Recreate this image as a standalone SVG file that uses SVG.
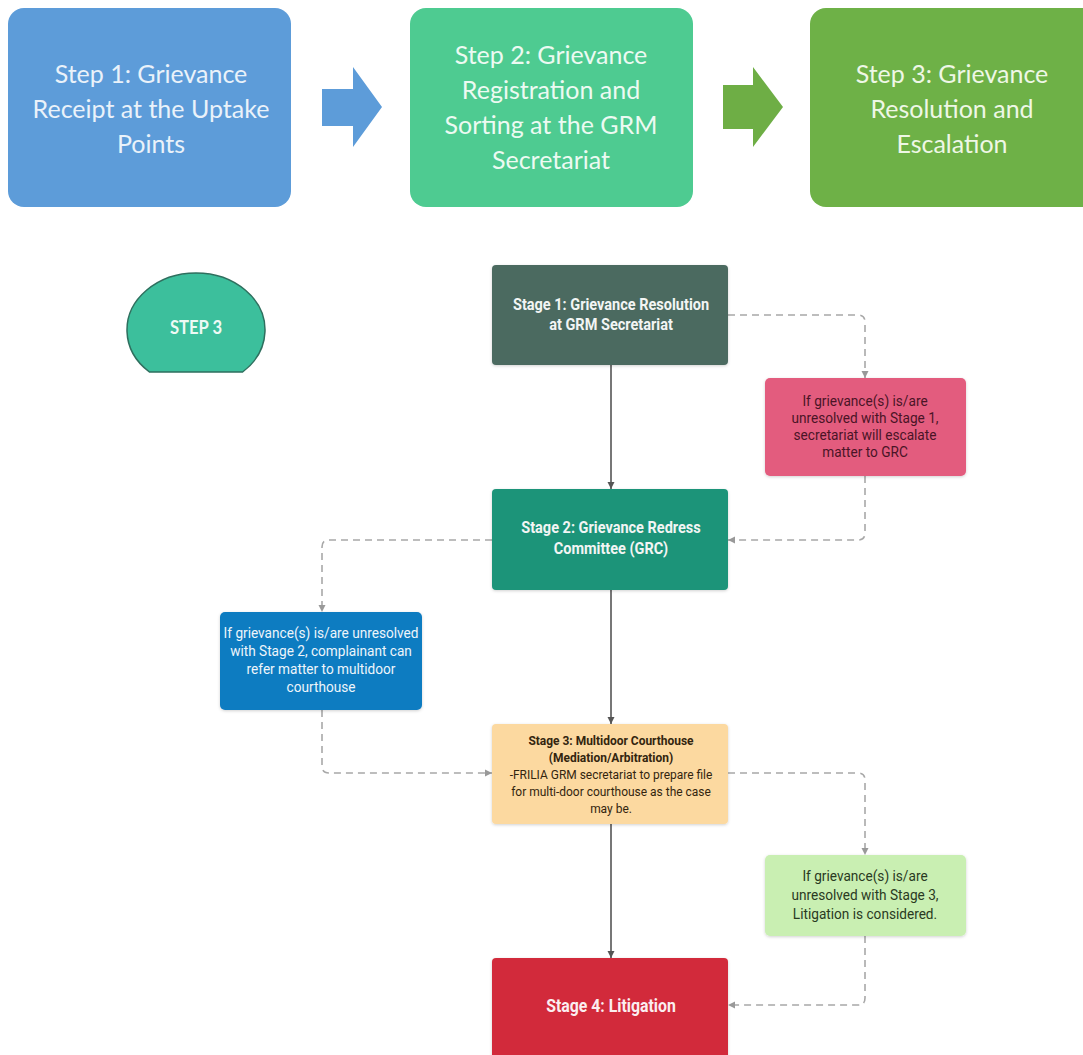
<svg xmlns="http://www.w3.org/2000/svg" width="1083" height="1055" viewBox="0 0 1083 1055">
  <defs>
    <style>
      .step { font-family: Lato, "Open Sans", sans-serif; font-size: 25px; text-anchor: middle; }
      .stage { font-family: Roboto, "Liberation Sans", sans-serif; font-size: 16.5px; font-weight: bold; text-anchor: middle; fill: #f2f5f4; }
      .stage-lg { font-size: 18px; fill: #fbeef0; }
      .note { font-family: Roboto, "Liberation Sans", sans-serif; font-size: 15.5px; text-anchor: middle; }
      .small { font-family: Roboto, "Liberation Sans", sans-serif; font-size: 13.6px; text-anchor: middle; fill: #33250f; }
      .solid { fill: none; stroke: #555555; stroke-width: 1.6; }
      .dash { fill: none; stroke: #a8a8a8; stroke-width: 1.6; stroke-dasharray: 7 5; }
    </style>
    <marker id="headSolid" viewBox="0 0 10 10" refX="10" refY="5" markerWidth="7" markerHeight="10" markerUnits="userSpaceOnUse" orient="auto">
      <path d="M0,0 L10,5 L0,10 Z" fill="#555555"/>
    </marker>
    <marker id="headDash" viewBox="0 0 10 10" refX="10" refY="5" markerWidth="7" markerHeight="10" markerUnits="userSpaceOnUse" orient="auto">
      <path d="M0,0 L10,5 L0,10 Z" fill="#999999"/>
    </marker>
    <filter id="soft" x="-5%" y="-5%" width="110%" height="115%">
      <feDropShadow dx="0" dy="1" stdDeviation="1.5" flood-color="#000" flood-opacity="0.18"/>
    </filter>
  </defs>

  <rect width="1083" height="1055" fill="#ffffff"/>

  <!-- Top process steps -->
  <g id="step1">
    <rect x="8" y="8" width="283" height="199" rx="16" fill="#5d9cd9"/>
    <text class="step" fill="#eaf2fa"><tspan x="151" y="83">Step 1: Grievance</tspan><tspan x="151" y="118">Receipt at the Uptake</tspan><tspan x="151" y="153">Points</tspan></text>
  </g>
  <g id="arrow-step1-step2">
    <path d="M322,89 H353 V67 L382,107 L353,147 V126 H322 Z" fill="#5d9cd9"/>
  </g>
  <g id="step2">
    <rect x="410" y="8" width="283" height="199" rx="16" fill="#4ecb91"/>
    <text class="step" fill="#ecfaf2"><tspan x="551" y="64">Step 2: Grievance</tspan><tspan x="551" y="99">Registration and</tspan><tspan x="551" y="134">Sorting at the GRM</tspan><tspan x="551" y="169">Secretariat</tspan></text>
  </g>
  <g id="arrow-step2-step3">
    <path d="M723,85 H753 V67 L783,107 L753,147 V129 H723 Z" fill="#6eae45"/>
  </g>
  <g id="step3">
    <rect x="810" y="8" width="290" height="199" rx="16" fill="#6eb147"/>
    <text class="step" fill="#eef7e6"><tspan x="952" y="83">Step 3: Grievance</tspan><tspan x="952" y="118">Resolution and</tspan><tspan x="952" y="153">Escalation</tspan></text>
  </g>

  <!-- Step 3 badge -->
  <g id="step3-badge">
    <path d="M149.4,372 A69,57 0 1 1 242.6,372 Z" fill="#3cbf9c" stroke="#2e6f5e" stroke-width="1.5"/>
    <text transform="translate(196 334) scale(0.9 1)" x="0" y="0" font-family="Lato, 'Open Sans', sans-serif" font-size="18.5" font-weight="bold" text-anchor="middle" fill="#eefaf5">STEP 3</text>
  </g>

  <!-- Connectors -->
  <g id="connectors">
    <path class="solid" d="M611,365 V489" marker-end="url(#headSolid)"/>
    <path class="solid" d="M611,590 V724" marker-end="url(#headSolid)"/>
    <path class="solid" d="M611,824 V958" marker-end="url(#headSolid)"/>
    <path class="dash" d="M728,315 H858 Q865,315 865,322 V378" marker-end="url(#headDash)"/>
    <path class="dash" d="M865,476 V533 Q865,540 858,540 H728" marker-end="url(#headDash)"/>
    <path class="dash" d="M492,540 H329 Q322,540 322,547 V612" marker-end="url(#headDash)"/>
    <path class="dash" d="M322,710 V766 Q322,773 329,773 H492" marker-end="url(#headDash)"/>
    <path class="dash" d="M728,773 H858 Q865,773 865,780 V855" marker-end="url(#headDash)"/>
    <path class="dash" d="M865,936 V998 Q865,1005 858,1005 H728" marker-end="url(#headDash)"/>
  </g>

  <!-- Escalation stages (labels set in a slightly condensed face) -->
  <g id="stage1">
    <rect x="492" y="265" width="236" height="100" rx="4" fill="#4b6a61" filter="url(#soft)"/>
    <text class="stage" transform="translate(611 0) scale(0.88 1)"><tspan x="0" y="310">Stage 1: Grievance Resolution</tspan><tspan x="0" y="330">at GRM Secretariat</tspan></text>
  </g>
  <g id="note-stage1">
    <rect x="765" y="378" width="201" height="98" rx="5" fill="#e35c7e" filter="url(#soft)"/>
    <text class="note" fill="#4a1426" transform="translate(865 0) scale(0.88 1)"><tspan x="0" y="406">If grievance(s) is/are</tspan><tspan x="0" y="423">unresolved with Stage 1,</tspan><tspan x="0" y="440">secretariat will escalate</tspan><tspan x="0" y="457">matter to GRC</tspan></text>
  </g>
  <g id="stage2">
    <rect x="492" y="489" width="236" height="101" rx="4" fill="#1b9479" filter="url(#soft)"/>
    <text class="stage" transform="translate(611 0) scale(0.88 1)"><tspan x="0" y="533">Stage 2: Grievance Redress</tspan><tspan x="0" y="554">Committee (GRC)</tspan></text>
  </g>
  <g id="note-stage2">
    <rect x="220" y="612" width="202" height="98" rx="5" fill="#0f7bc1" filter="url(#soft)"/>
    <text class="note" fill="#eef5fb" transform="translate(321 0) scale(0.88 1)"><tspan x="0" y="638">If grievance(s) is/are unresolved</tspan><tspan x="0" y="656">with Stage 2, complainant can</tspan><tspan x="0" y="674">refer matter to multidoor</tspan><tspan x="0" y="692">courthouse</tspan></text>
  </g>
  <g id="stage3">
    <rect x="492" y="724" width="236" height="100" rx="4" fill="#fcd9a0" filter="url(#soft)"/>
    <text class="small" transform="translate(611 0) scale(0.88 1)"><tspan x="0" y="745" font-weight="bold">Stage 3: Multidoor Courthouse</tspan><tspan x="0" y="762" font-weight="bold">(Mediation/Arbitration)</tspan><tspan x="0" y="779">-FRILIA GRM secretariat to prepare file</tspan><tspan x="0" y="796">for multi-door courthouse as the case</tspan><tspan x="0" y="813">may be.</tspan></text>
  </g>
  <g id="note-stage3">
    <rect x="765" y="855" width="201" height="81" rx="5" fill="#c9efb2" filter="url(#soft)"/>
    <text class="note" fill="#2a3a22" transform="translate(865 0) scale(0.88 1)"><tspan x="0" y="881">If grievance(s) is/are</tspan><tspan x="0" y="900">unresolved with Stage 3,</tspan><tspan x="0" y="919">Litigation is considered.</tspan></text>
  </g>
  <g id="stage4">
    <rect x="492" y="958" width="236" height="110" rx="4" fill="#d22b3a" filter="url(#soft)"/>
    <text class="stage stage-lg" transform="translate(611 0) scale(0.88 1)"><tspan x="0" y="1012">Stage 4: Litigation</tspan></text>
  </g>
</svg>
